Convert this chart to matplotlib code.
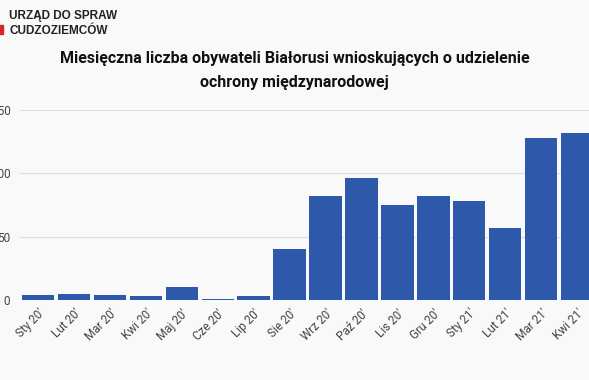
import matplotlib.pyplot as plt
import matplotlib.patches as patches
from matplotlib.transforms import ScaledTranslation

MONTHS = ["Sty 20'", "Lut 20'", "Mar 20'", "Kwi 20'", "Maj 20'", "Cze 20'",
          "Lip 20'", "Sie 20'", "Wrz 20'", "Paź 20'", "Lis 20'", "Gru 20'",
          "Sty 21'", "Lut 21'", "Mar 21'", "Kwi 21'"]
COUNTS = [4, 5, 4, 3, 10, 1, 3, 40, 82, 96, 75, 82, 78, 57, 128, 132]
YTICKS = [0, 50, 100, 150]

TITLE = ("Miesięczna liczba obywateli Białorusi wnioskujących o udzielenie\n"
         "ochrony międzynarodowej")
BAR_COLOR = "#2e59ab"

plt.rcParams["font.family"] = ["Roboto", "DejaVu Sans"]

fig = plt.figure(figsize=(5.89, 3.80), dpi=100, facecolor="#f9f9f9")
ax = fig.add_axes([20 / 589, 80 / 380, 1 - 20 / 589, 190 / 380])
ax.set_facecolor("none")

x = range(len(MONTHS))
bars = ax.bar(x, COUNTS, width=0.9, color=BAR_COLOR, zorder=3)

ax.set_xlim(-0.5, 15.33)
ax.set_ylim(0, 150)
ax.set_yticks(YTICKS)
ax.set_yticklabels([str(v) for v in YTICKS], fontsize=8.5, color="#444444")
ax.set_xticks(list(x))
ax.set_xticklabels(MONTHS, rotation=45, ha="right", rotation_mode="anchor",
                   fontsize=8.5, color="#444444")
shift = ScaledTranslation(6 / 100, 0, fig.dpi_scale_trans)
for lbl in ax.get_xticklabels():
    lbl.set_transform(lbl.get_transform() + shift)
ax.tick_params(length=0, axis="y", pad=7)
ax.tick_params(length=0, axis="x", pad=5)
ax.grid(axis="y", color="#dddddd", linewidth=0.8, zorder=0)
for s in ax.spines.values():
    s.set_visible(False)

fig.text(0.5, 1 - 70 / 380, TITLE, ha="center", va="center", fontsize=11.5,
         fontweight="bold", color="#111111", linespacing=1.75)

# logo
fig.text(9 / 589, 1 - 10 / 380, "URZĄD DO SPRAW\nCUDZOZIEMCÓW", ha="left",
         va="top", fontsize=8.5, fontweight="bold", color="#222222",
         family=["Liberation Sans", "DejaVu Sans"], linespacing=1.3)
fig.patches.append(patches.Rectangle((0, 1 - 34 / 380), 3 / 589, 9 / 380,
                                     transform=fig.transFigure,
                                     color="#d8232a"))

fig.savefig("out.png", dpi=100, facecolor=fig.get_facecolor())
